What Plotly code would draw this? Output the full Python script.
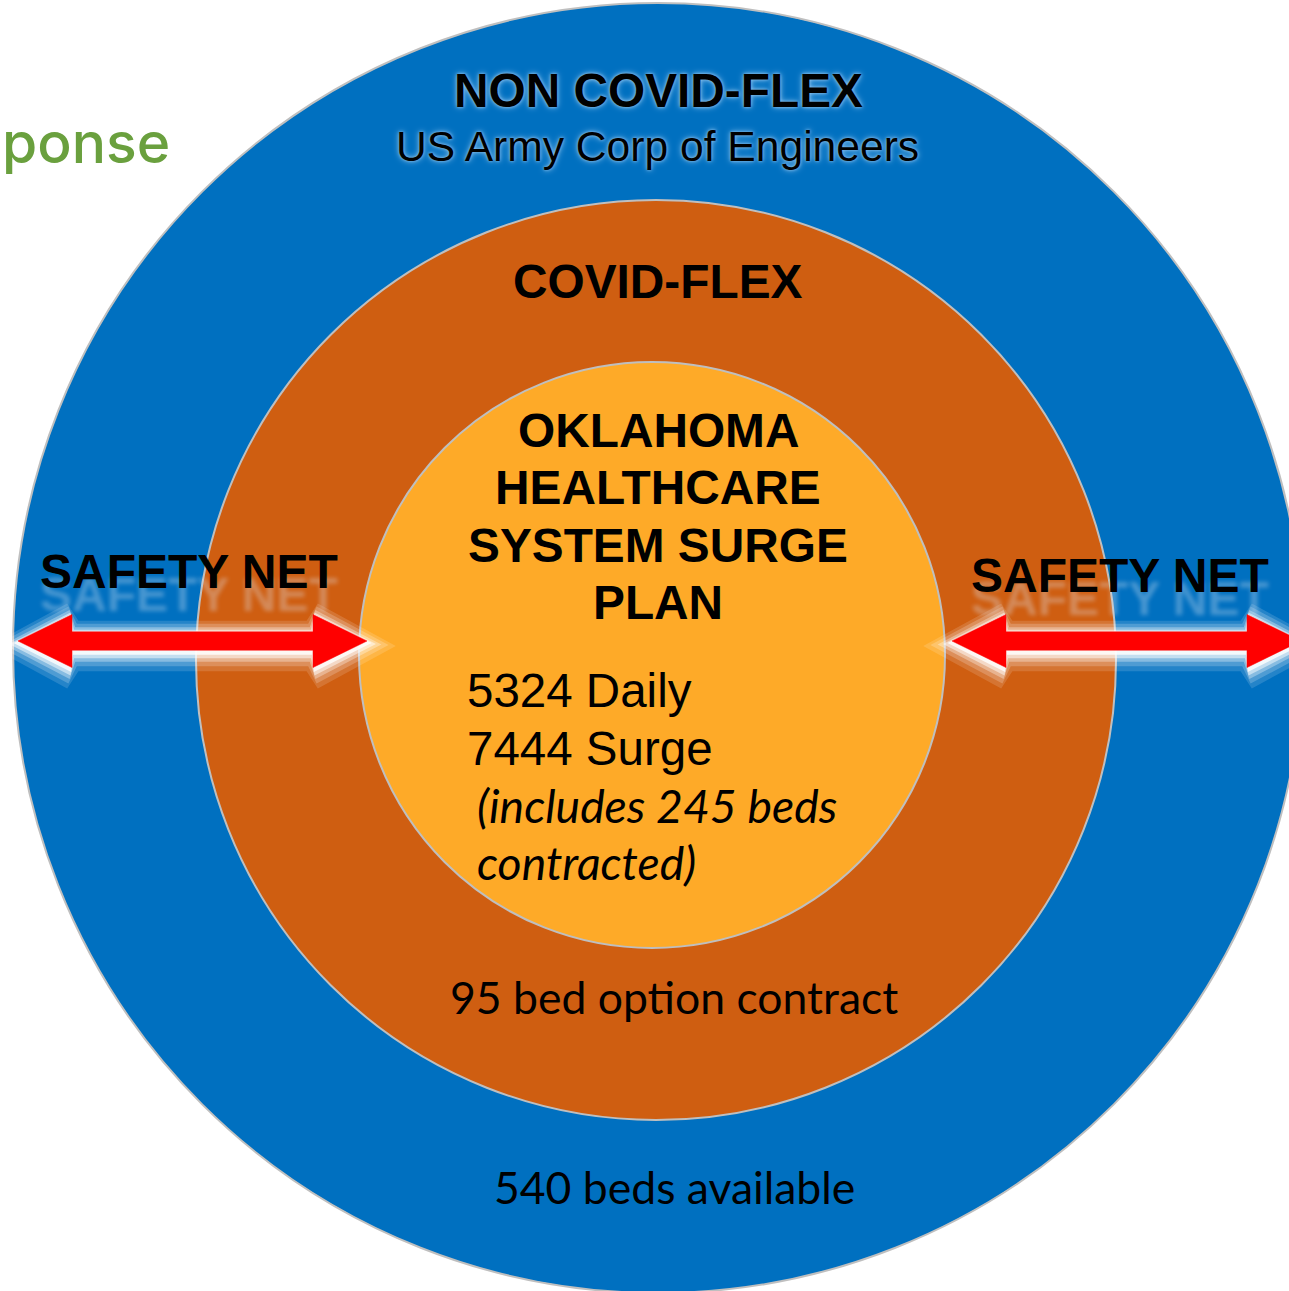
import plotly.graph_objects as go

# ---------------- data ----------------
ring_names = ["NON COVID-FLEX", "COVID-FLEX"]
outer_provider = "US Army Corp of Engineers"
core_title_lines = ["OKLAHOMA", "HEALTHCARE", "SYSTEM SURGE", "PLAN"]
daily_beds = 5324
surge_beds = 7444
contracted_beds = 245
option_beds = 95
available_beds = 540
side_label = "SAFETY NET"
banner_text = "ponse"

# ---------------- layout geometry (pixel space) ----------------
W, H = 1289, 1291
rings = [  # centre x, centre y, radius, fill
    (658, 648, 645, "#0070C0"),
    (656, 660, 460, "#CF5E11"),
    (652, 655, 293, "#FEAA28"),
]
ARIAL = "Liberation Sans, Arial, sans-serif"
CALIBRI = "Lato, Carlito, Calibri, sans-serif"

fig = go.Figure()
fig.add_trace(go.Scatter(x=[0, W], y=[0, H], mode="markers",
                         marker=dict(opacity=0), hoverinfo="skip", showlegend=False))

shapes = []
for cx, cy, r, col in rings:
    shapes.append(dict(type="circle", xref="x", yref="y", x0=cx - r, x1=cx + r,
                       y0=cy - r, y1=cy + r, fillcolor=col,
                       line=dict(color="#BFBFBF", width=2), layer="above"))


def arrow_path(xl, xr, yc, d=0.0, dy=0.0, head_len=54, head_half=26.5, shaft_half=9.2):
    """Double-headed arrow polygon, optionally grown outward by d pixels."""
    y = yc + dy
    hl = head_len
    hh = head_half + d
    sh = shaft_half + d
    a, b = xl - 1.8 * d, xr + 1.8 * d
    pts = [(a, y), (xl + hl - 0.3 * d, y - hh), (xl + hl + d * 0.4, y - sh),
           (xr - hl - d * 0.4, y - sh), (xr - hl + 0.3 * d, y - hh), (b, y),
           (xr - hl + 0.3 * d, y + hh), (xr - hl - d * 0.4, y + sh),
           (xl + hl + d * 0.4, y + sh), (xl + hl - 0.3 * d, y + hh)]
    return "M " + " L ".join(f"{px:.1f},{py:.1f}" for px, py in pts) + " Z"


arrows = [(18, 367, 641), (952, 1301, 641)]
for xl, xr, yc in arrows:
    for d, op, dy in [(16, 0.14, 5), (12, 0.2, 4), (8, 0.32, 3.5), (5, 0.5, 3), (2.5, 0.8, 2)]:
        shapes.append(dict(type="path", xref="x", yref="y",
                           path=arrow_path(xl, xr, yc, d=d, dy=dy),
                           fillcolor="white", line=dict(width=0),
                           opacity=op, layer="above"))
    shapes.append(dict(type="path", xref="x", yref="y", path=arrow_path(xl, xr, yc),
                       fillcolor="#FF0000", line=dict(color="#FF0000", width=0.5),
                       layer="above"))

annotations = []


def label(text, x, y, size, family=ARIAL, bold=False, italic=False, color="black",
          xanchor="center", shadow=None, weight=None):
    font = dict(family=family, size=size, color=color,
                weight=weight if weight else ("bold" if bold else "normal"),
                style="italic" if italic else "normal")
    if shadow:
        font["shadow"] = shadow
    annotations.append(dict(text=text, x=x, y=y, xref="x", yref="y", showarrow=False,
                            xanchor=xanchor, yanchor="middle", font=font))


glow = "0px 0px 3px #8fc3ee, 0px 0px 6px #8fc3ee"
label(ring_names[0], 658, 90, 47.8, bold=True, shadow=glow)
label(outer_provider, 657, 146, 42.6, shadow=glow)
label(ring_names[1], 658, 281, 47.8, bold=True)
for i, line in enumerate(core_title_lines):
    label(line, 658, 430 + i * 57.5, 47.8, bold=True)
label(f"{daily_beds} Daily", 465, 690, 47.5, xanchor="left")
label(f"{surge_beds} Surge", 465, 748, 47.5, xanchor="left")
label(f"(includes {contracted_beds} beds", 475, 805, 46.3, family=CALIBRI,
      italic=True, xanchor="left")
label("contracted)", 475, 862, 46.3, family=CALIBRI, italic=True, xanchor="left")
label(f"{option_beds} bed option contract", 674, 996, 44.5, family=CALIBRI)
label(f"{available_beds} beds available", 674, 1186, 44.5, family=CALIBRI)

refl = "0px 23px 4px rgba(225,232,245,0.32)"
label(side_label, 189, 571, 48, bold=True, shadow=refl)
label(side_label, 1120, 575, 48, bold=True, shadow=refl)

label(banner_text, 0, 142, 57, family="Inter, Roboto, sans-serif", color="#6AA03E",
      xanchor="left", weight=500)

fig.update_layout(
    width=W, height=H, autosize=False,
    margin=dict(l=0, r=0, t=0, b=0),
    paper_bgcolor="white", plot_bgcolor="white",
    xaxis=dict(range=[0, W], visible=False, fixedrange=True),
    yaxis=dict(range=[H, 0], visible=False, fixedrange=True),
    shapes=shapes, annotations=annotations, showlegend=False,
)

fig.write_html("out.html", config={"displayModeBar": False},
               post_script="document.body.style.margin='0';document.body.style.overflow='hidden';")
